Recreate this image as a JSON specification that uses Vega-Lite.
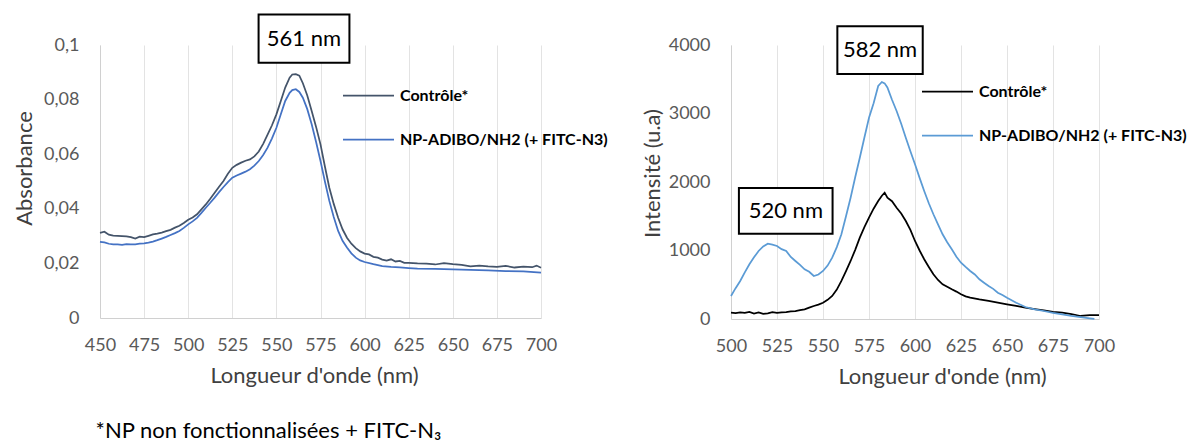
{
  "$schema": "https://vega.github.io/schema/vega-lite/v6.json",
  "padding": {"left": 12, "top": 13, "right": 5, "bottom": 5},
  "bounds": "flush",
  "spacing": 190,
  "config": {
    "font": "Lato",
    "locale": {"number": {"decimal": ",", "thousands": " ", "grouping": [3], "currency": ["", " €"]}},
    "view": {"stroke": null},
    "axis": {"grid": false, "ticks": false, "labelFlush": false, "labelOverlap": false, "domainColor": "#d0d0d0", "labelFont": "Lato", "titleFont": "Lato", "labelFontSize": 18, "labelColor": "#595959", "titleFontSize": 22, "titleFontWeight": "normal", "titleColor": "#404040", "titleBaseline": "middle"},
    "axisX": {"grid": true, "gridColor": "#e3e3e3", "labelPadding": 18},
    "axisY": {"labelPadding": 21},
    "legend": {"orient": "none", "title": null, "symbolType": "stroke", "symbolSize": 2601, "symbolStrokeWidth": 1.75, "labelFont": "Lato", "labelFontSize": 16, "labelFontWeight": "bold", "labelColor": "#000000", "labelOffset": 5, "labelLimit": 400, "rowPadding": 9, "padding": 0}
  },
  "resolve": {"scale": {"color": "independent", "x": "independent", "y": "independent"}, "legend": {"color": "independent"}},
  "hconcat": [
    {
      "width": 441,
      "height": 273,
      "layer": [
        {
          "data": {"values": [
            {"nm":450,"v":0.0312,"s":"Contrôle*"},{"nm":452.5,"v":0.0316,"s":"Contrôle*"},{"nm":455,"v":0.0305,"s":"Contrôle*"},{"nm":457.5,"v":0.0302,"s":"Contrôle*"},{"nm":460,"v":0.0301,"s":"Contrôle*"},{"nm":462.5,"v":0.0300,"s":"Contrôle*"},{"nm":465,"v":0.0299,"s":"Contrôle*"},{"nm":467.5,"v":0.0296,"s":"Contrôle*"},{"nm":470,"v":0.0291,"s":"Contrôle*"},{"nm":472.5,"v":0.0298,"s":"Contrôle*"},{"nm":475,"v":0.0296,"s":"Contrôle*"},{"nm":477.5,"v":0.0301,"s":"Contrôle*"},{"nm":480,"v":0.0306,"s":"Contrôle*"},{"nm":482.5,"v":0.0309,"s":"Contrôle*"},{"nm":485,"v":0.0313,"s":"Contrôle*"},{"nm":487.5,"v":0.0318,"s":"Contrôle*"},{"nm":490,"v":0.0323,"s":"Contrôle*"},{"nm":492.5,"v":0.0331,"s":"Contrôle*"},{"nm":495,"v":0.0338,"s":"Contrôle*"},{"nm":497.5,"v":0.0348,"s":"Contrôle*"},{"nm":500,"v":0.0360,"s":"Contrôle*"},{"nm":502.5,"v":0.0368,"s":"Contrôle*"},{"nm":505,"v":0.0380,"s":"Contrôle*"},{"nm":507.5,"v":0.0398,"s":"Contrôle*"},{"nm":510,"v":0.0416,"s":"Contrôle*"},{"nm":512.5,"v":0.0437,"s":"Contrôle*"},{"nm":515,"v":0.0459,"s":"Contrôle*"},{"nm":517.5,"v":0.0481,"s":"Contrôle*"},{"nm":520,"v":0.0502,"s":"Contrôle*"},{"nm":522.5,"v":0.0528,"s":"Contrôle*"},{"nm":525,"v":0.0550,"s":"Contrôle*"},{"nm":527.5,"v":0.0561,"s":"Contrôle*"},{"nm":530,"v":0.0569,"s":"Contrôle*"},{"nm":532.5,"v":0.0576,"s":"Contrôle*"},{"nm":535,"v":0.0581,"s":"Contrôle*"},{"nm":537.5,"v":0.0592,"s":"Contrôle*"},{"nm":540,"v":0.0610,"s":"Contrôle*"},{"nm":542.5,"v":0.0638,"s":"Contrôle*"},{"nm":545,"v":0.0672,"s":"Contrôle*"},{"nm":547.5,"v":0.0706,"s":"Contrôle*"},{"nm":550,"v":0.0746,"s":"Contrôle*"},{"nm":552.5,"v":0.0795,"s":"Contrôle*"},{"nm":555,"v":0.0844,"s":"Contrôle*"},{"nm":557.5,"v":0.0880,"s":"Contrôle*"},{"nm":559,"v":0.0892,"s":"Contrôle*"},{"nm":561,"v":0.0893,"s":"Contrôle*"},{"nm":563,"v":0.0888,"s":"Contrôle*"},{"nm":565,"v":0.0860,"s":"Contrôle*"},{"nm":567.5,"v":0.0815,"s":"Contrôle*"},{"nm":570,"v":0.0758,"s":"Contrôle*"},{"nm":572.5,"v":0.0700,"s":"Contrôle*"},{"nm":575,"v":0.0636,"s":"Contrôle*"},{"nm":577.5,"v":0.0555,"s":"Contrôle*"},{"nm":580,"v":0.0477,"s":"Contrôle*"},{"nm":582.5,"v":0.0418,"s":"Contrôle*"},{"nm":585,"v":0.0367,"s":"Contrôle*"},{"nm":587.5,"v":0.0325,"s":"Contrôle*"},{"nm":590,"v":0.0294,"s":"Contrôle*"},{"nm":592.5,"v":0.0272,"s":"Contrôle*"},{"nm":595,"v":0.0256,"s":"Contrôle*"},{"nm":597.5,"v":0.0244,"s":"Contrôle*"},{"nm":600,"v":0.0236,"s":"Contrôle*"},{"nm":602.5,"v":0.0233,"s":"Contrôle*"},{"nm":605,"v":0.0224,"s":"Contrôle*"},{"nm":607.5,"v":0.0221,"s":"Contrôle*"},{"nm":610,"v":0.0214,"s":"Contrôle*"},{"nm":612.5,"v":0.0210,"s":"Contrôle*"},{"nm":615,"v":0.0215,"s":"Contrôle*"},{"nm":617.5,"v":0.0207,"s":"Contrôle*"},{"nm":620,"v":0.0209,"s":"Contrôle*"},{"nm":622.5,"v":0.0202,"s":"Contrôle*"},{"nm":625,"v":0.0202,"s":"Contrôle*"},{"nm":630,"v":0.0200,"s":"Contrôle*"},{"nm":635,"v":0.0199,"s":"Contrôle*"},{"nm":640,"v":0.0196,"s":"Contrôle*"},{"nm":645,"v":0.0201,"s":"Contrôle*"},{"nm":650,"v":0.0197,"s":"Contrôle*"},{"nm":655,"v":0.0195,"s":"Contrôle*"},{"nm":660,"v":0.0189,"s":"Contrôle*"},{"nm":665,"v":0.0192,"s":"Contrôle*"},{"nm":670,"v":0.0189,"s":"Contrôle*"},{"nm":675,"v":0.0187,"s":"Contrôle*"},{"nm":680,"v":0.0191,"s":"Contrôle*"},{"nm":685,"v":0.0185,"s":"Contrôle*"},{"nm":690,"v":0.0188,"s":"Contrôle*"},{"nm":695,"v":0.0186,"s":"Contrôle*"},{"nm":697.5,"v":0.0192,"s":"Contrôle*"},{"nm":700,"v":0.0184,"s":"Contrôle*"},
            {"nm":450,"v":0.0279,"s":"NP-ADIBO/NH2 (+ FITC-N3)"},{"nm":452.5,"v":0.0277,"s":"NP-ADIBO/NH2 (+ FITC-N3)"},{"nm":455,"v":0.0272,"s":"NP-ADIBO/NH2 (+ FITC-N3)"},{"nm":457.5,"v":0.0270,"s":"NP-ADIBO/NH2 (+ FITC-N3)"},{"nm":460,"v":0.0270,"s":"NP-ADIBO/NH2 (+ FITC-N3)"},{"nm":462.5,"v":0.0268,"s":"NP-ADIBO/NH2 (+ FITC-N3)"},{"nm":465,"v":0.0271,"s":"NP-ADIBO/NH2 (+ FITC-N3)"},{"nm":467.5,"v":0.0270,"s":"NP-ADIBO/NH2 (+ FITC-N3)"},{"nm":470,"v":0.0270,"s":"NP-ADIBO/NH2 (+ FITC-N3)"},{"nm":472.5,"v":0.0272,"s":"NP-ADIBO/NH2 (+ FITC-N3)"},{"nm":475,"v":0.0273,"s":"NP-ADIBO/NH2 (+ FITC-N3)"},{"nm":477.5,"v":0.0276,"s":"NP-ADIBO/NH2 (+ FITC-N3)"},{"nm":480,"v":0.0280,"s":"NP-ADIBO/NH2 (+ FITC-N3)"},{"nm":482.5,"v":0.0285,"s":"NP-ADIBO/NH2 (+ FITC-N3)"},{"nm":485,"v":0.0291,"s":"NP-ADIBO/NH2 (+ FITC-N3)"},{"nm":487.5,"v":0.0297,"s":"NP-ADIBO/NH2 (+ FITC-N3)"},{"nm":490,"v":0.0304,"s":"NP-ADIBO/NH2 (+ FITC-N3)"},{"nm":492.5,"v":0.0311,"s":"NP-ADIBO/NH2 (+ FITC-N3)"},{"nm":495,"v":0.0319,"s":"NP-ADIBO/NH2 (+ FITC-N3)"},{"nm":497.5,"v":0.0330,"s":"NP-ADIBO/NH2 (+ FITC-N3)"},{"nm":500,"v":0.0343,"s":"NP-ADIBO/NH2 (+ FITC-N3)"},{"nm":502.5,"v":0.0354,"s":"NP-ADIBO/NH2 (+ FITC-N3)"},{"nm":505,"v":0.0367,"s":"NP-ADIBO/NH2 (+ FITC-N3)"},{"nm":507.5,"v":0.0385,"s":"NP-ADIBO/NH2 (+ FITC-N3)"},{"nm":510,"v":0.0404,"s":"NP-ADIBO/NH2 (+ FITC-N3)"},{"nm":512.5,"v":0.0422,"s":"NP-ADIBO/NH2 (+ FITC-N3)"},{"nm":515,"v":0.0441,"s":"NP-ADIBO/NH2 (+ FITC-N3)"},{"nm":517.5,"v":0.0461,"s":"NP-ADIBO/NH2 (+ FITC-N3)"},{"nm":520,"v":0.0480,"s":"NP-ADIBO/NH2 (+ FITC-N3)"},{"nm":522.5,"v":0.0498,"s":"NP-ADIBO/NH2 (+ FITC-N3)"},{"nm":525,"v":0.0514,"s":"NP-ADIBO/NH2 (+ FITC-N3)"},{"nm":527.5,"v":0.0522,"s":"NP-ADIBO/NH2 (+ FITC-N3)"},{"nm":530,"v":0.0529,"s":"NP-ADIBO/NH2 (+ FITC-N3)"},{"nm":532.5,"v":0.0536,"s":"NP-ADIBO/NH2 (+ FITC-N3)"},{"nm":535,"v":0.0545,"s":"NP-ADIBO/NH2 (+ FITC-N3)"},{"nm":537.5,"v":0.0558,"s":"NP-ADIBO/NH2 (+ FITC-N3)"},{"nm":540,"v":0.0575,"s":"NP-ADIBO/NH2 (+ FITC-N3)"},{"nm":542.5,"v":0.0597,"s":"NP-ADIBO/NH2 (+ FITC-N3)"},{"nm":545,"v":0.0624,"s":"NP-ADIBO/NH2 (+ FITC-N3)"},{"nm":547.5,"v":0.0658,"s":"NP-ADIBO/NH2 (+ FITC-N3)"},{"nm":550,"v":0.0697,"s":"NP-ADIBO/NH2 (+ FITC-N3)"},{"nm":552.5,"v":0.0746,"s":"NP-ADIBO/NH2 (+ FITC-N3)"},{"nm":555,"v":0.0795,"s":"NP-ADIBO/NH2 (+ FITC-N3)"},{"nm":557.5,"v":0.0825,"s":"NP-ADIBO/NH2 (+ FITC-N3)"},{"nm":559,"v":0.0835,"s":"NP-ADIBO/NH2 (+ FITC-N3)"},{"nm":561,"v":0.0838,"s":"NP-ADIBO/NH2 (+ FITC-N3)"},{"nm":563,"v":0.0828,"s":"NP-ADIBO/NH2 (+ FITC-N3)"},{"nm":565,"v":0.0807,"s":"NP-ADIBO/NH2 (+ FITC-N3)"},{"nm":567.5,"v":0.0765,"s":"NP-ADIBO/NH2 (+ FITC-N3)"},{"nm":570,"v":0.0710,"s":"NP-ADIBO/NH2 (+ FITC-N3)"},{"nm":572.5,"v":0.0645,"s":"NP-ADIBO/NH2 (+ FITC-N3)"},{"nm":575,"v":0.0575,"s":"NP-ADIBO/NH2 (+ FITC-N3)"},{"nm":577.5,"v":0.0500,"s":"NP-ADIBO/NH2 (+ FITC-N3)"},{"nm":580,"v":0.0429,"s":"NP-ADIBO/NH2 (+ FITC-N3)"},{"nm":582.5,"v":0.0370,"s":"NP-ADIBO/NH2 (+ FITC-N3)"},{"nm":585,"v":0.0319,"s":"NP-ADIBO/NH2 (+ FITC-N3)"},{"nm":587.5,"v":0.0283,"s":"NP-ADIBO/NH2 (+ FITC-N3)"},{"nm":590,"v":0.0258,"s":"NP-ADIBO/NH2 (+ FITC-N3)"},{"nm":592.5,"v":0.0237,"s":"NP-ADIBO/NH2 (+ FITC-N3)"},{"nm":595,"v":0.0221,"s":"NP-ADIBO/NH2 (+ FITC-N3)"},{"nm":597.5,"v":0.0211,"s":"NP-ADIBO/NH2 (+ FITC-N3)"},{"nm":600,"v":0.0205,"s":"NP-ADIBO/NH2 (+ FITC-N3)"},{"nm":605,"v":0.0197,"s":"NP-ADIBO/NH2 (+ FITC-N3)"},{"nm":610,"v":0.0190,"s":"NP-ADIBO/NH2 (+ FITC-N3)"},{"nm":615,"v":0.0187,"s":"NP-ADIBO/NH2 (+ FITC-N3)"},{"nm":620,"v":0.0185,"s":"NP-ADIBO/NH2 (+ FITC-N3)"},{"nm":625,"v":0.0183,"s":"NP-ADIBO/NH2 (+ FITC-N3)"},{"nm":630,"v":0.0181,"s":"NP-ADIBO/NH2 (+ FITC-N3)"},{"nm":640,"v":0.0180,"s":"NP-ADIBO/NH2 (+ FITC-N3)"},{"nm":650,"v":0.0178,"s":"NP-ADIBO/NH2 (+ FITC-N3)"},{"nm":660,"v":0.0176,"s":"NP-ADIBO/NH2 (+ FITC-N3)"},{"nm":670,"v":0.0174,"s":"NP-ADIBO/NH2 (+ FITC-N3)"},{"nm":680,"v":0.0172,"s":"NP-ADIBO/NH2 (+ FITC-N3)"},{"nm":690,"v":0.0171,"s":"NP-ADIBO/NH2 (+ FITC-N3)"},{"nm":700,"v":0.0166,"s":"NP-ADIBO/NH2 (+ FITC-N3)"}
          ]},
          "mark": {"type": "line", "strokeWidth": 1.75},
          "encoding": {
            "x": {"field": "nm", "type": "quantitative", "scale": {"domain": [450, 700], "nice": false, "zero": false},
                  "axis": {"values": [450,475,500,525,550,575,600,625,650,675,700], "format": "d", "title": "Longueur d'onde (nm)", "titleX": 214, "titleY": 57}},
            "y": {"field": "v", "type": "quantitative", "scale": {"domain": [0, 0.1], "nice": false},
                  "axis": {"values": [0,0.02,0.04,0.06,0.08,0.1], "format": ".2~f", "title": "Absorbance", "titleX": -76, "titleY": 123}},
            "color": {"field": "s", "type": "nominal", "scale": {"domain": ["Contrôle*", "NP-ADIBO/NH2 (+ FITC-N3)"], "range": ["#44546A", "#4472C4"]},
                      "legend": {"legendX": 242, "legendY": 24}}
          }
        },
        {
          "data": {"values": [{"x1": 539.9, "x2": 591.4, "y1": 0.0935, "y2": 0.1112}]},
          "mark": {"type": "rect", "fill": "#ffffff", "stroke": "#000000", "strokeWidth": 2},
          "encoding": {"x": {"field": "x1", "type": "quantitative"}, "x2": {"field": "x2"}, "y": {"field": "y1", "type": "quantitative"}, "y2": {"field": "y2"}}
        },
        {
          "data": {"values": [{"x": 565.6, "y": 0.1022, "t": "561 nm"}]},
          "mark": {"type": "text", "fontSize": 22, "color": "#000000", "align": "center", "baseline": "middle"},
          "encoding": {"x": {"field": "x", "type": "quantitative"}, "y": {"field": "y", "type": "quantitative"}, "text": {"field": "t"}}
        },
        {
          "data": {"values": [{"x": 447.5, "y": -0.0415, "t": "*NP non fonctionnalisées + FITC-N₃"}]},
          "mark": {"type": "text", "fontSize": 22, "color": "#000000", "align": "left", "baseline": "middle"},
          "encoding": {"x": {"field": "x", "type": "quantitative"}, "y": {"field": "y", "type": "quantitative"}, "text": {"field": "t"}}
        }
      ]
    },
    {
      "width": 368,
      "height": 274,
      "layer": [
        {
          "data": {"values": [
            {"nm":500,"v":92,"s":"Contrôle*"},{"nm":502.5,"v":85,"s":"Contrôle*"},{"nm":505,"v":98,"s":"Contrôle*"},{"nm":507.5,"v":88,"s":"Contrôle*"},{"nm":510,"v":102,"s":"Contrôle*"},{"nm":512.5,"v":80,"s":"Contrôle*"},{"nm":515,"v":95,"s":"Contrôle*"},{"nm":517.5,"v":75,"s":"Contrôle*"},{"nm":520,"v":83,"s":"Contrôle*"},{"nm":522.5,"v":100,"s":"Contrôle*"},{"nm":525,"v":90,"s":"Contrôle*"},{"nm":527.5,"v":96,"s":"Contrôle*"},{"nm":530,"v":102,"s":"Contrôle*"},{"nm":532.5,"v":110,"s":"Contrôle*"},{"nm":535,"v":115,"s":"Contrôle*"},{"nm":537.5,"v":128,"s":"Contrôle*"},{"nm":540,"v":141,"s":"Contrôle*"},{"nm":542.5,"v":165,"s":"Contrôle*"},{"nm":545,"v":190,"s":"Contrôle*"},{"nm":547.5,"v":210,"s":"Contrôle*"},{"nm":550,"v":238,"s":"Contrôle*"},{"nm":552.5,"v":280,"s":"Contrôle*"},{"nm":555,"v":336,"s":"Contrôle*"},{"nm":557.5,"v":430,"s":"Contrôle*"},{"nm":560,"v":555,"s":"Contrôle*"},{"nm":562.5,"v":700,"s":"Contrôle*"},{"nm":565,"v":847,"s":"Contrôle*"},{"nm":567.5,"v":1010,"s":"Contrôle*"},{"nm":570,"v":1187,"s":"Contrôle*"},{"nm":572.5,"v":1340,"s":"Contrôle*"},{"nm":575,"v":1479,"s":"Contrôle*"},{"nm":577.5,"v":1610,"s":"Contrôle*"},{"nm":580,"v":1723,"s":"Contrôle*"},{"nm":582,"v":1800,"s":"Contrôle*"},{"nm":583.5,"v":1844,"s":"Contrôle*"},{"nm":585,"v":1771,"s":"Contrôle*"},{"nm":587.5,"v":1720,"s":"Contrôle*"},{"nm":590,"v":1625,"s":"Contrôle*"},{"nm":592.5,"v":1540,"s":"Contrôle*"},{"nm":595,"v":1431,"s":"Contrôle*"},{"nm":597.5,"v":1300,"s":"Contrôle*"},{"nm":600,"v":1139,"s":"Contrôle*"},{"nm":602.5,"v":1000,"s":"Contrôle*"},{"nm":605,"v":872,"s":"Contrôle*"},{"nm":607.5,"v":760,"s":"Contrôle*"},{"nm":610,"v":653,"s":"Contrôle*"},{"nm":612.5,"v":570,"s":"Contrôle*"},{"nm":615,"v":507,"s":"Contrôle*"},{"nm":617.5,"v":470,"s":"Contrôle*"},{"nm":620,"v":434,"s":"Contrôle*"},{"nm":622.5,"v":400,"s":"Contrôle*"},{"nm":625,"v":361,"s":"Contrôle*"},{"nm":627.5,"v":330,"s":"Contrôle*"},{"nm":630,"v":311,"s":"Contrôle*"},{"nm":635,"v":285,"s":"Contrôle*"},{"nm":640,"v":263,"s":"Contrôle*"},{"nm":645,"v":240,"s":"Contrôle*"},{"nm":650,"v":215,"s":"Contrôle*"},{"nm":655,"v":190,"s":"Contrôle*"},{"nm":660,"v":165,"s":"Contrôle*"},{"nm":665,"v":145,"s":"Contrôle*"},{"nm":670,"v":127,"s":"Contrôle*"},{"nm":675,"v":105,"s":"Contrôle*"},{"nm":680,"v":92,"s":"Contrôle*"},{"nm":685,"v":70,"s":"Contrôle*"},{"nm":690,"v":44,"s":"Contrôle*"},{"nm":695,"v":55,"s":"Contrôle*"},{"nm":700,"v":58,"s":"Contrôle*"},
            {"nm":500,"v":336,"s":"NP-ADIBO/NH2 (+ FITC-N3)"},{"nm":502.5,"v":450,"s":"NP-ADIBO/NH2 (+ FITC-N3)"},{"nm":505,"v":555,"s":"NP-ADIBO/NH2 (+ FITC-N3)"},{"nm":507.5,"v":680,"s":"NP-ADIBO/NH2 (+ FITC-N3)"},{"nm":510,"v":799,"s":"NP-ADIBO/NH2 (+ FITC-N3)"},{"nm":512.5,"v":900,"s":"NP-ADIBO/NH2 (+ FITC-N3)"},{"nm":515,"v":993,"s":"NP-ADIBO/NH2 (+ FITC-N3)"},{"nm":517.5,"v":1060,"s":"NP-ADIBO/NH2 (+ FITC-N3)"},{"nm":520,"v":1099,"s":"NP-ADIBO/NH2 (+ FITC-N3)"},{"nm":522.5,"v":1085,"s":"NP-ADIBO/NH2 (+ FITC-N3)"},{"nm":525,"v":1066,"s":"NP-ADIBO/NH2 (+ FITC-N3)"},{"nm":527.5,"v":1020,"s":"NP-ADIBO/NH2 (+ FITC-N3)"},{"nm":530,"v":993,"s":"NP-ADIBO/NH2 (+ FITC-N3)"},{"nm":532.5,"v":905,"s":"NP-ADIBO/NH2 (+ FITC-N3)"},{"nm":535,"v":847,"s":"NP-ADIBO/NH2 (+ FITC-N3)"},{"nm":537.5,"v":790,"s":"NP-ADIBO/NH2 (+ FITC-N3)"},{"nm":540,"v":726,"s":"NP-ADIBO/NH2 (+ FITC-N3)"},{"nm":542.5,"v":690,"s":"NP-ADIBO/NH2 (+ FITC-N3)"},{"nm":545,"v":628,"s":"NP-ADIBO/NH2 (+ FITC-N3)"},{"nm":547.5,"v":650,"s":"NP-ADIBO/NH2 (+ FITC-N3)"},{"nm":550,"v":701,"s":"NP-ADIBO/NH2 (+ FITC-N3)"},{"nm":552.5,"v":780,"s":"NP-ADIBO/NH2 (+ FITC-N3)"},{"nm":555,"v":895,"s":"NP-ADIBO/NH2 (+ FITC-N3)"},{"nm":557.5,"v":1050,"s":"NP-ADIBO/NH2 (+ FITC-N3)"},{"nm":560,"v":1237,"s":"NP-ADIBO/NH2 (+ FITC-N3)"},{"nm":562.5,"v":1500,"s":"NP-ADIBO/NH2 (+ FITC-N3)"},{"nm":565,"v":1771,"s":"NP-ADIBO/NH2 (+ FITC-N3)"},{"nm":567.5,"v":2070,"s":"NP-ADIBO/NH2 (+ FITC-N3)"},{"nm":570,"v":2355,"s":"NP-ADIBO/NH2 (+ FITC-N3)"},{"nm":572.5,"v":2650,"s":"NP-ADIBO/NH2 (+ FITC-N3)"},{"nm":575,"v":2939,"s":"NP-ADIBO/NH2 (+ FITC-N3)"},{"nm":577.5,"v":3150,"s":"NP-ADIBO/NH2 (+ FITC-N3)"},{"nm":580,"v":3402,"s":"NP-ADIBO/NH2 (+ FITC-N3)"},{"nm":582,"v":3460,"s":"NP-ADIBO/NH2 (+ FITC-N3)"},{"nm":583.5,"v":3440,"s":"NP-ADIBO/NH2 (+ FITC-N3)"},{"nm":585,"v":3380,"s":"NP-ADIBO/NH2 (+ FITC-N3)"},{"nm":587.5,"v":3200,"s":"NP-ADIBO/NH2 (+ FITC-N3)"},{"nm":590,"v":3037,"s":"NP-ADIBO/NH2 (+ FITC-N3)"},{"nm":592.5,"v":2850,"s":"NP-ADIBO/NH2 (+ FITC-N3)"},{"nm":595,"v":2647,"s":"NP-ADIBO/NH2 (+ FITC-N3)"},{"nm":597.5,"v":2450,"s":"NP-ADIBO/NH2 (+ FITC-N3)"},{"nm":600,"v":2259,"s":"NP-ADIBO/NH2 (+ FITC-N3)"},{"nm":602.5,"v":2060,"s":"NP-ADIBO/NH2 (+ FITC-N3)"},{"nm":605,"v":1869,"s":"NP-ADIBO/NH2 (+ FITC-N3)"},{"nm":607.5,"v":1690,"s":"NP-ADIBO/NH2 (+ FITC-N3)"},{"nm":610,"v":1529,"s":"NP-ADIBO/NH2 (+ FITC-N3)"},{"nm":612.5,"v":1380,"s":"NP-ADIBO/NH2 (+ FITC-N3)"},{"nm":615,"v":1237,"s":"NP-ADIBO/NH2 (+ FITC-N3)"},{"nm":617.5,"v":1120,"s":"NP-ADIBO/NH2 (+ FITC-N3)"},{"nm":620,"v":1018,"s":"NP-ADIBO/NH2 (+ FITC-N3)"},{"nm":622.5,"v":910,"s":"NP-ADIBO/NH2 (+ FITC-N3)"},{"nm":625,"v":822,"s":"NP-ADIBO/NH2 (+ FITC-N3)"},{"nm":627.5,"v":760,"s":"NP-ADIBO/NH2 (+ FITC-N3)"},{"nm":630,"v":701,"s":"NP-ADIBO/NH2 (+ FITC-N3)"},{"nm":632.5,"v":650,"s":"NP-ADIBO/NH2 (+ FITC-N3)"},{"nm":635,"v":580,"s":"NP-ADIBO/NH2 (+ FITC-N3)"},{"nm":637.5,"v":530,"s":"NP-ADIBO/NH2 (+ FITC-N3)"},{"nm":640,"v":482,"s":"NP-ADIBO/NH2 (+ FITC-N3)"},{"nm":642.5,"v":440,"s":"NP-ADIBO/NH2 (+ FITC-N3)"},{"nm":645,"v":384,"s":"NP-ADIBO/NH2 (+ FITC-N3)"},{"nm":647.5,"v":350,"s":"NP-ADIBO/NH2 (+ FITC-N3)"},{"nm":650,"v":311,"s":"NP-ADIBO/NH2 (+ FITC-N3)"},{"nm":655,"v":238,"s":"NP-ADIBO/NH2 (+ FITC-N3)"},{"nm":660,"v":175,"s":"NP-ADIBO/NH2 (+ FITC-N3)"},{"nm":665,"v":140,"s":"NP-ADIBO/NH2 (+ FITC-N3)"},{"nm":670,"v":117,"s":"NP-ADIBO/NH2 (+ FITC-N3)"},{"nm":675,"v":90,"s":"NP-ADIBO/NH2 (+ FITC-N3)"},{"nm":680,"v":69,"s":"NP-ADIBO/NH2 (+ FITC-N3)"},{"nm":685,"v":45,"s":"NP-ADIBO/NH2 (+ FITC-N3)"},{"nm":690,"v":29,"s":"NP-ADIBO/NH2 (+ FITC-N3)"},{"nm":695,"v":10,"s":"NP-ADIBO/NH2 (+ FITC-N3)"},{"nm":697.5,"v":2,"s":"NP-ADIBO/NH2 (+ FITC-N3)"}
          ]},
          "mark": {"type": "line", "strokeWidth": 1.75},
          "encoding": {
            "x": {"field": "nm", "type": "quantitative", "scale": {"domain": [500, 700], "nice": false, "zero": false},
                  "axis": {"values": [500,525,550,575,600,625,650,675,700], "format": "d", "title": "Longueur d'onde (nm)", "titleX": 211, "titleY": 57}},
            "y": {"field": "v", "type": "quantitative", "scale": {"domain": [0, 4000], "nice": false},
                  "axis": {"values": [0,1000,2000,3000,4000], "format": "d", "title": "Intensité (u.a)", "titleX": -79, "titleY": 128}},
            "color": {"field": "s", "type": "nominal", "scale": {"domain": ["Contrôle*", "NP-ADIBO/NH2 (+ FITC-N3)"], "range": ["#000000", "#5B9BD5"]},
                      "legend": {"legendX": 190, "legendY": 20}}
          }
        },
        {
          "data": {"values": [{"x1": 557.8, "x2": 604.2, "y1": 3576, "y2": 4273}, {"x1": 504.3, "x2": 555.2, "y1": 1244, "y2": 1912}]},
          "mark": {"type": "rect", "fill": "#ffffff", "stroke": "#000000", "strokeWidth": 2},
          "encoding": {"x": {"field": "x1", "type": "quantitative"}, "x2": {"field": "x2"}, "y": {"field": "y1", "type": "quantitative"}, "y2": {"field": "y2"}}
        },
        {
          "data": {"values": [{"x": 581, "y": 3924, "t": "582 nm"}, {"x": 529.8, "y": 1578, "t": "520 nm"}]},
          "mark": {"type": "text", "fontSize": 22, "color": "#000000", "align": "center", "baseline": "middle"},
          "encoding": {"x": {"field": "x", "type": "quantitative"}, "y": {"field": "y", "type": "quantitative"}, "text": {"field": "t"}}
        }
      ]
    }
  ]
}
